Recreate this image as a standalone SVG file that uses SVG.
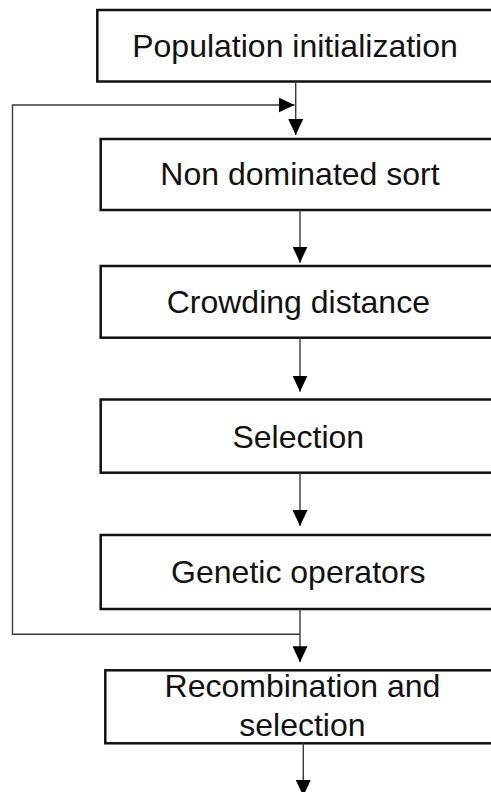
<svg xmlns="http://www.w3.org/2000/svg" width="491" height="792" viewBox="0 0 491 792">
  <style>
    .box { fill: #ffffff; stroke: #111111; stroke-width: 2.5; }
    .label { font-family: "Liberation Sans", Arial, sans-serif; font-size: 32px; fill: #111111; text-anchor: middle; }
    .wire { fill: none; stroke: #3a3a3a; stroke-width: 1.4; }
  </style>
  <defs>
    <marker id="arrow" markerUnits="userSpaceOnUse" markerWidth="16" markerHeight="15" refX="16" refY="7.5" orient="auto">
      <path d="M0,0 L16,7.5 L0,15 Z" fill="#000000"/>
    </marker>
  </defs>

  <rect width="491" height="792" fill="#ffffff"/>

  <!-- process steps -->
  <g id="node-init">
    <rect class="box" x="97.3" y="10" width="420" height="71.5"/>
    <text class="label" x="295" y="56.7">Population initialization</text>
  </g>
  <g id="node-sort">
    <rect class="box" x="100.7" y="139" width="420" height="71"/>
    <text class="label" x="300" y="185">Non dominated sort</text>
  </g>
  <g id="node-crowding">
    <rect class="box" x="100.7" y="266" width="420" height="71.7"/>
    <text class="label" x="298.3" y="313.3">Crowding distance</text>
  </g>
  <g id="node-selection">
    <rect class="box" x="100.7" y="399.5" width="420" height="73.2"/>
    <text class="label" x="298.3" y="448.3">Selection</text>
  </g>
  <g id="node-genetic">
    <rect class="box" x="100.7" y="535" width="420" height="74"/>
    <text class="label" x="298.3" y="583.3">Genetic operators</text>
  </g>
  <g id="node-recombination">
    <rect class="box" x="105.3" y="670.3" width="420" height="73"/>
    <text class="label" x="302.4" y="697.3">Recombination and</text>
    <text class="label" x="302.4" y="735.7">selection</text>
  </g>

  <!-- connectors -->
  <g id="connectors">
    <line class="wire" x1="295.7" y1="81.5" x2="295.7" y2="135" marker-end="url(#arrow)"/>
    <line class="wire" x1="300" y1="210" x2="300" y2="262.7" marker-end="url(#arrow)"/>
    <line class="wire" x1="300" y1="337.7" x2="300" y2="391.7" marker-end="url(#arrow)"/>
    <line class="wire" x1="300" y1="472.7" x2="300" y2="526" marker-end="url(#arrow)"/>
    <line class="wire" x1="300" y1="609" x2="300" y2="662.3" marker-end="url(#arrow)"/>
    <line class="wire" x1="303.3" y1="743.3" x2="303.3" y2="796" marker-end="url(#arrow)"/>
    <!-- loop back from genetic operators to the sort step -->
    <polyline class="wire" points="300,634.3 12.5,634.3 12.5,105 294.5,105" marker-end="url(#arrow)"/>
  </g>
</svg>
